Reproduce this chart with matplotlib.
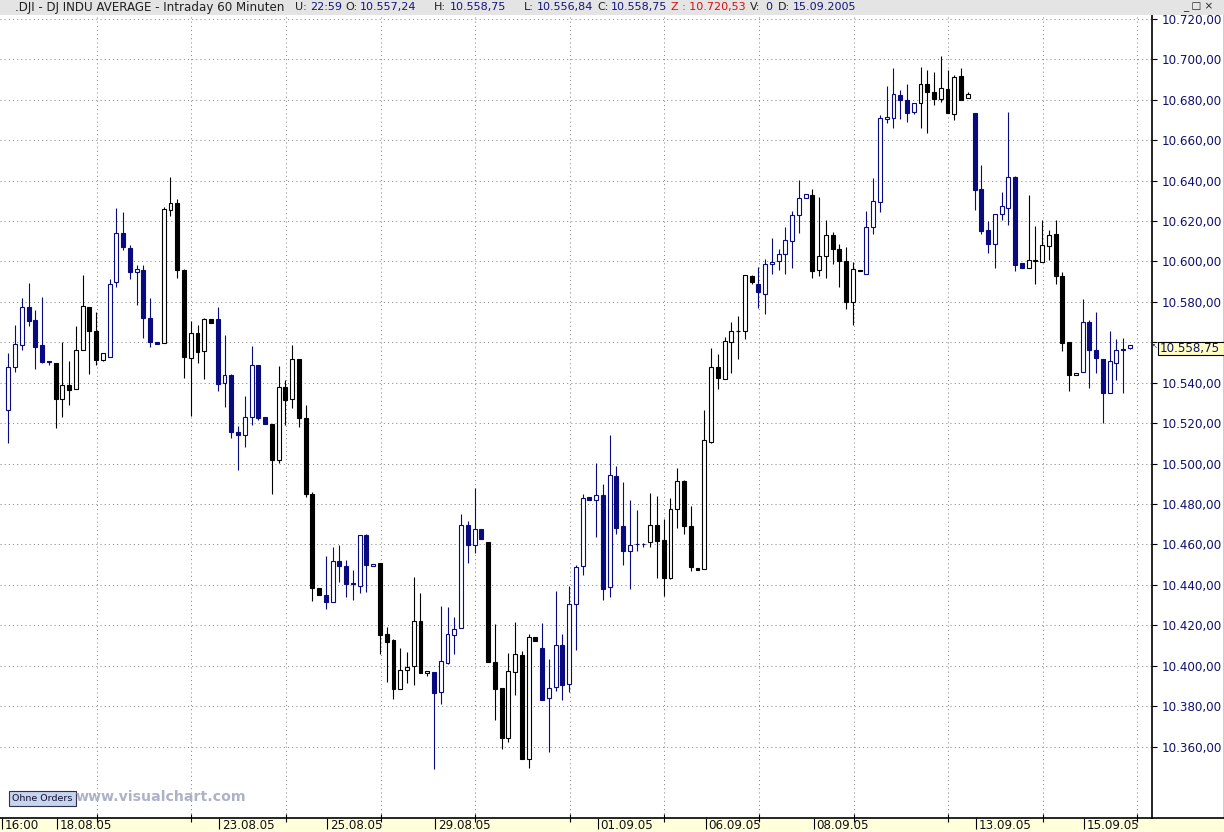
import matplotlib
matplotlib.use("Agg")
import matplotlib.pyplot as plt
from matplotlib.patches import Rectangle
from matplotlib.lines import Line2D
import numpy as np

# trading days shown and number of 60-minute bars in each
days = ["17.08.05", "18.08.05", "19.08.05", "22.08.05", "23.08.05", "24.08.05",
        "25.08.05", "26.08.05", "29.08.05", "30.08.05", "31.08.05", "01.09.05",
        "02.09.05", "06.09.05", "07.09.05", "08.09.05", "09.09.05", "12.09.05",
        "13.09.05", "14.09.05", "15.09.05"]
bars_per_day = [7] + [8] * 20
labelled_days = ["18.08.05", "23.08.05", "25.08.05", "29.08.05", "01.09.05",
                 "06.09.05", "08.09.05", "13.09.05", "15.09.05"]

opens = [10526.6, 10547.9, 10558.8, 10577.3, 10570.9, 10558.5, 10550.9,
         10549.9, 10531.9, 10539.0, 10537.0, 10556.3, 10577.6, 10565.7, 10551.4,
         10552.9, 10590.0, 10614.3, 10606.8, 10595.0, 10595.9, 10572.2, 10560.0,
         10559.8, 10625.6, 10629.1, 10595.9, 10552.4, 10564.8, 10555.9, 10571.7,
         10571.3, 10540.1, 10544.0, 10515.6, 10514.3, 10523.2, 10549.0, 10522.9,
         10519.4, 10501.8, 10538.1, 10532.1, 10551.5, 10522.7, 10485.1, 10438.6,
         10434.8, 10431.5, 10451.9, 10449.5, 10441.1, 10439.7, 10464.8, 10449.5,
         10451.0, 10415.8, 10412.7, 10388.7, 10397.8, 10399.8, 10422.1, 10396.2,
         10396.8, 10386.8, 10401.6, 10415.1, 10418.6, 10469.6, 10459.7, 10467.6,
         10461.4, 10401.8, 10388.9, 10364.5, 10396.7, 10405.2, 10354.1, 10414.2,
         10408.9, 10384.0, 10389.4, 10410.2, 10390.9, 10430.5, 10449.3, 10483.3,
         10482.0, 10484.3, 10438.8, 10493.7, 10469.1, 10456.6, 10460.2, 10460.2,
         10461.1, 10469.5, 10462.0, 10443.6, 10477.4, 10491.4, 10469.3, 10448.2,
         10447.7, 10510.9, 10547.7, 10541.9, 10560.1, 10565.5, 10565.5, 10592.9,
         10588.9, 10583.7, 10598.5, 10600.0, 10603.5, 10609.9, 10622.8, 10631.2,
         10632.7, 10596.0, 10602.5, 10612.9, 10606.4, 10600.0, 10580.0, 10596.0,
         10593.6, 10616.8, 10629.2, 10670.3, 10670.8, 10682.2, 10679.7, 10673.8,
         10678.2, 10687.6, 10683.7, 10680.2, 10685.1, 10672.8, 10691.6, 10680.7,
         10673.4, 10635.8, 10615.8, 10608.4, 10623.3, 10626.2, 10641.6, 10599.0,
         10597.0, 10600.7, 10599.5, 10607.4, 10613.5, 10592.7, 10560.4, 10543.6,
         10545.5, 10569.8, 10556.3, 10551.5, 10534.7, 10550.0, 10556.9, 10557.24]
highs = [10554.9, 10568.4, 10581.7, 10589.2, 10575.8, 10582.2, 10550.9,
         10549.9, 10560.3, 10550.6, 10567.9, 10593.1, 10577.6, 10575.0, 10554.9,
         10591.2, 10626.3, 10624.3, 10608.0, 10598.4, 10598.4, 10581.7, 10560.3,
         10627.1, 10641.8, 10630.8, 10596.4, 10570.4, 10568.4, 10572.2, 10571.7,
         10577.7, 10563.5, 10544.5, 10518.8, 10533.3, 10558.1, 10549.0, 10522.9,
         10519.4, 10548.5, 10541.2, 10558.9, 10551.8, 10529.2, 10486.1, 10438.6,
         10454.1, 10458.7, 10459.9, 10452.4, 10447.5, 10464.8, 10465.3, 10450.5,
         10451.0, 10419.3, 10413.3, 10408.9, 10406.9, 10444.0, 10436.1, 10397.3,
         10396.8, 10429.5, 10429.0, 10424.1, 10475.0, 10471.7, 10488.0, 10467.6,
         10461.4, 10420.8, 10388.9, 10406.4, 10421.7, 10407.2, 10415.6, 10414.2,
         10421.3, 10403.4, 10437.1, 10415.6, 10439.6, 10449.6, 10484.8, 10483.3,
         10500.3, 10490.0, 10514.2, 10498.7, 10490.9, 10482.0, 10477.1, 10460.9,
         10485.3, 10484.0, 10472.4, 10483.2, 10497.7, 10491.9, 10479.0, 10448.2,
         10526.4, 10557.3, 10554.3, 10562.5, 10570.1, 10573.1, 10593.2, 10593.2,
         10597.5, 10601.0, 10611.4, 10606.1, 10617.0, 10625.2, 10640.1, 10633.2,
         10635.6, 10631.8, 10620.3, 10614.4, 10608.4, 10607.1, 10599.5, 10596.0,
         10624.8, 10641.4, 10672.3, 10686.8, 10695.5, 10684.7, 10687.8, 10678.2,
         10696.2, 10694.7, 10693.7, 10701.7, 10694.7, 10692.2, 10695.5, 10683.8,
         10673.4, 10647.7, 10620.0, 10623.3, 10634.3, 10673.9, 10642.1, 10599.0,
         10632.8, 10617.5, 10620.3, 10615.5, 10620.3, 10594.7, 10560.4, 10544.7,
         10581.4, 10571.1, 10574.9, 10551.5, 10565.5, 10561.6, 10562.2, 10558.75]
lows = [10510.1, 10545.3, 10556.0, 10568.1, 10546.8, 10549.7, 10548.7,
        10517.6, 10523.0, 10528.9, 10537.0, 10556.3, 10544.5, 10548.9, 10550.7,
        10552.9, 10587.4, 10605.8, 10591.5, 10578.6, 10562.1, 10557.8, 10559.1,
        10559.8, 10622.5, 10591.8, 10542.3, 10523.7, 10549.8, 10541.7, 10569.6,
        10535.9, 10528.0, 10512.8, 10496.8, 10508.2, 10519.3, 10521.7, 10519.6,
        10485.0, 10500.3, 10519.3, 10527.7, 10518.0, 10483.5, 10432.0, 10435.1,
        10427.9, 10431.5, 10441.4, 10434.0, 10432.6, 10435.9, 10436.4, 10449.5,
        10405.6, 10392.0, 10383.8, 10388.3, 10391.6, 10390.7, 10396.2, 10394.7,
        10349.1, 10381.3, 10401.0, 10405.6, 10418.6, 10450.6, 10455.6, 10462.5,
        10402.1, 10373.4, 10359.0, 10362.5, 10385.6, 10354.1, 10349.6, 10412.5,
        10383.3, 10357.1, 10387.3, 10383.3, 10386.8, 10407.7, 10444.7, 10482.0,
        10463.9, 10432.5, 10434.2, 10465.0, 10450.0, 10437.8, 10456.9, 10458.6,
        10458.6, 10443.2, 10434.5, 10442.7, 10468.0, 10465.0, 10447.0, 10447.4,
        10447.7, 10510.1, 10537.1, 10541.9, 10544.6, 10551.5, 10561.7, 10588.9,
        10577.2, 10573.8, 10593.6, 10595.7, 10593.6, 10596.9, 10614.2, 10631.2,
        10591.9, 10592.9, 10591.9, 10598.5, 10587.3, 10576.6, 10568.8, 10595.4,
        10593.6, 10613.7, 10624.6, 10668.6, 10666.2, 10670.6, 10669.1, 10673.1,
        10666.2, 10663.7, 10677.2, 10678.7, 10673.3, 10669.8, 10679.7, 10680.7,
        10625.6, 10613.4, 10604.3, 10596.9, 10620.6, 10617.8, 10595.2, 10597.0,
        10597.0, 10588.6, 10599.5, 10600.8, 10588.9, 10555.9, 10535.8, 10543.6,
        10545.5, 10537.5, 10544.9, 10520.1, 10534.7, 10541.6, 10534.7, 10556.84]
closes = [10547.9, 10559.0, 10577.3, 10570.5, 10557.7, 10550.2, 10550.2,
          10531.9, 10539.0, 10536.4, 10556.3, 10578.1, 10565.7, 10551.4, 10554.9,
          10589.0, 10614.3, 10607.2, 10594.8, 10596.4, 10572.2, 10560.1, 10559.3,
          10626.1, 10629.1, 10595.9, 10552.7, 10564.8, 10555.2, 10571.7, 10569.6,
          10539.4, 10544.0, 10515.6, 10514.3, 10523.2, 10549.0, 10522.6, 10519.6,
          10501.8, 10538.1, 10531.5, 10551.5, 10522.7, 10485.1, 10438.6, 10435.1,
          10431.5, 10451.9, 10449.3, 10440.4, 10440.4, 10464.8, 10450.0, 10450.5,
          10415.0, 10412.0, 10388.7, 10397.8, 10399.3, 10422.1, 10396.2, 10397.3,
          10386.3, 10402.3, 10415.6, 10418.1, 10469.6, 10459.7, 10467.6, 10462.5,
          10402.1, 10388.3, 10364.5, 10397.3, 10405.7, 10354.1, 10414.2, 10412.5,
          10383.3, 10388.9, 10410.2, 10390.4, 10430.5, 10448.8, 10482.8, 10482.0,
          10484.3, 10438.1, 10494.2, 10468.3, 10456.9, 10459.6, 10460.2, 10460.2,
          10469.5, 10461.9, 10443.6, 10477.4, 10491.4, 10469.3, 10448.7, 10447.4,
          10511.6, 10547.7, 10542.2, 10560.7, 10565.5, 10565.5, 10593.2, 10589.6,
          10584.7, 10598.5, 10599.5, 10603.5, 10610.4, 10622.8, 10631.2, 10633.2,
          10595.4, 10602.5, 10612.9, 10606.3, 10600.0, 10580.0, 10596.5, 10595.4,
          10616.8, 10629.7, 10670.8, 10671.3, 10682.7, 10679.7, 10673.3, 10678.2,
          10687.6, 10683.7, 10680.2, 10685.6, 10673.3, 10691.1, 10679.7, 10682.7,
          10635.5, 10615.2, 10608.4, 10623.3, 10627.2, 10641.6, 10598.0, 10597.0,
          10600.5, 10600.0, 10607.9, 10612.9, 10592.9, 10559.6, 10543.6, 10544.7,
          10569.8, 10556.3, 10552.0, 10534.7, 10551.0, 10556.4, 10556.3, 10558.75]

price_levels = list(range(10360, 10721, 20))
last_price = 10558.75
title = ".DJI - DJ INDU AVERAGE - Intraday 60 Minuten"
header = [("U:", 295, "#202020"), ("22:59", 310, "#14147a"),
          ("O:", 345, "#202020"), ("10.557,24", 360, "#14147a"),
          ("H:", 434, "#202020"), ("10.558,75", 450, "#14147a"),
          ("L:", 524, "#202020"), ("10.556,84", 537, "#14147a"),
          ("C:", 597, "#202020"), ("10.558,75", 611, "#14147a"),
          ("Z : 10.720,53", 671, "#d41010"),
          ("V:", 750, "#202020"), ("0", 765, "#14147a"),
          ("D:", 778, "#202020"), ("15.09.2005", 793, "#14147a")]

W, H = 1224, 832
NAVY = "#0a0a80"
plt.rcParams["font.family"] = ["DejaVu Sans"]


def fx(px):
    return px / W


def fy(py):
    return 1 - py / H


def german(v):
    return f"{v:,.2f}".replace(",", "X").replace(".", ",").replace("X", ".")


fig = plt.figure(figsize=(W / 100, H / 100), dpi=100)
fig.patch.set_facecolor("white")

ax = fig.add_axes([0, fy(818), fx(1152), (818 - 14) / H])
ax.set_xlim(-0.23, 170.26)
ax.set_ylim(10324.7, 10722.4)
for side in ("top", "left"):
    ax.spines[side].set_visible(False)
for side in ("right", "bottom"):
    ax.spines[side].set_linewidth(1.2)
    ax.spines[side].set_color("black")

# colour of each bar from its trading day (odd/even date)
bar_colors = []
day_start = []
pos = 1
for d, n in zip(days, bars_per_day):
    col = NAVY if int(d[:2]) % 2 == 1 else "black"
    bar_colors += [col] * n
    day_start.append(pos)
    pos += n

o = np.array(opens)
h = np.array(highs)
l = np.array(lows)
c = np.array(closes)
x = np.arange(1, len(o) + 1)

# grid
grid_x = np.arange(14, 170, 14) + 0.1
for gy in price_levels:
    ax.axhline(gy, color="#8a8a8a", lw=0.75, ls=(0, (1, 3)), zorder=1)
for gx in grid_x:
    ax.axvline(gx, color="#8a8a8a", lw=0.75, ls=(0, (1, 3)), zorder=1)

# candles
ax.vlines(x, l, h, colors=bar_colors, lw=0.8, zorder=2)
up = c >= o
fills = ["white" if u else col for u, col in zip(up, bar_colors)]
ax.bar(x, np.abs(c - o), bottom=np.minimum(o, c), width=0.58,
       color=fills, edgecolor=bar_colors, linewidth=0.8, zorder=3)

# price axis on the right (the label next to the last price is hidden by its box)
ax.yaxis.tick_right()
ax.set_yticks(price_levels)
ax.set_yticklabels(["" if abs(v - last_price) < 10 else german(v) for v in price_levels])
ax.tick_params(axis="y", direction="out", length=3.6, width=0.8, pad=3.2,
               labelsize=8.6, colors="black")
for t in ax.get_yticklabels():
    t.set_color("#10106e")

# time axis
date_pos = [day_start[days.index(d)] + 0.2 for d in labelled_days]
ax.set_xticks([0.07] + date_pos)
ax.set_xticklabels([])
ax.set_xticks(grid_x, minor=True)
ax.tick_params(axis="x", which="major", direction="out", length=8, width=0.8)
ax.tick_params(axis="x", which="minor", direction="inout", length=6, width=0.8)
for p, lab in zip([0.07] + date_pos, ["16:00"] + labelled_days):
    ax.annotate(lab, xy=(p, 0), xycoords=("data", "axes fraction"),
                xytext=(2.5, -7.5), textcoords="offset pixels",
                ha="left", va="center", fontsize=8.6, color="#101010",
                annotation_clip=False)

# bottom strip and header bar
fig.patches.append(Rectangle((0, 0), 1, fy(818), transform=fig.transFigure,
                             facecolor="#ffffdc", edgecolor="none", zorder=-1))
fig.lines.append(Line2D([fx(1152), 1], [fy(818), fy(818)], transform=fig.transFigure,
                        color="black", lw=1.2))
fig.lines.append(Line2D([fx(1223.5), fx(1223.5)], [fy(818), fy(15)],
                        transform=fig.transFigure, color="black", lw=1))
fig.patches.append(Rectangle((0, fy(15)), 1, 15 / H, transform=fig.transFigure,
                             facecolor="#e4e4e4", edgecolor="none", zorder=5))
fig.text(fx(15), fy(7), title, color="#202020", fontsize=8.6,
         ha="left", va="center", zorder=6)
for txt, px, col in header:
    fig.text(fx(px), fy(7), txt, color=col, fontsize=8,
             ha="left", va="center", zorder=6)
fig.text(fx(1198), fy(6.5), "_ \u25a1 \u00d7", fontsize=7.5, ha="center",
         va="center", color="#202020", zorder=6)

# last price marker
ly = 59.3 + (10700 - last_price) * 2.0218
fig.patches.append(Rectangle((fx(1158), fy(ly + 10)), fx(1224) - fx(1158), 13 / H,
                             transform=fig.transFigure, facecolor="#ffffc0",
                             edgecolor="black", lw=0.8, zorder=4))
fig.text(fx(1160), fy(ly + 3.5), german(last_price), fontsize=8.6, color="#10106e",
         ha="left", va="center", zorder=6)
fig.text(fx(1155), fy(ly + 1), "\u2196", fontsize=5, color="#333333",
         ha="center", va="center", zorder=6)

# footer badges
fig.patches.append(Rectangle((fx(9), fy(806)), fx(67), 15 / H,
                             transform=fig.transFigure, facecolor="#c6d4ee",
                             edgecolor="#303050", lw=0.8, zorder=4))
fig.text(fx(42.5), fy(798.5), "Ohne Orders", fontsize=6.8, color="#101030",
         ha="center", va="center", zorder=6)
fig.text(fx(76), fy(797), "www.visualchart.com", fontsize=10.2, fontweight="bold",
         color="#aeb2c8", ha="left", va="center", zorder=6)

fig.savefig("out.png", dpi=100)
